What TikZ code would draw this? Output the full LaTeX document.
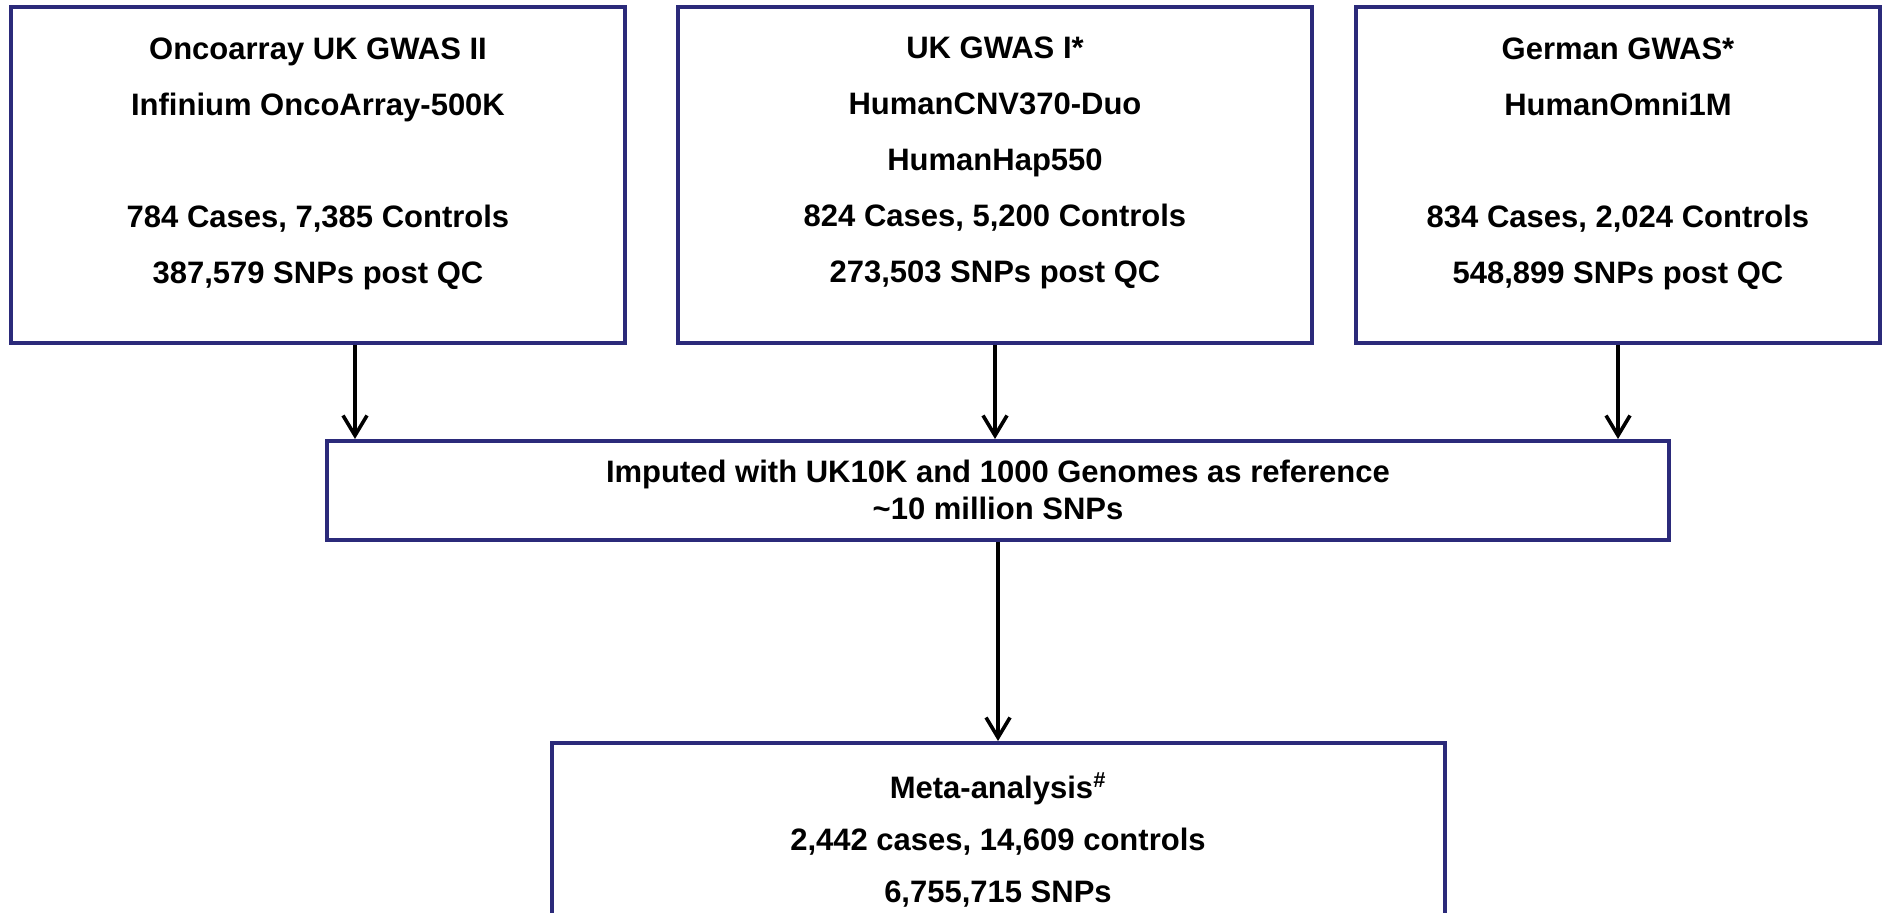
\documentclass[tikz,border=0pt]{standalone}
\usepackage{fontspec}
\setmainfont{Liberation Sans}
\usetikzlibrary{arrows.meta}
\definecolor{boxblue}{RGB}{43,42,122}
\tikzset{
	box/.style={draw=boxblue, line width=2pt, inner sep=0pt},
	txt/.style={align=center, inner sep=0pt, font=\bfseries\fontsize{15.5pt}{28pt}\selectfont},
	arr/.style={line width=1.8pt, -{Straight Barb[length=10pt,width=12pt,line width=1.8pt]}}
}
\begin{document}
\begin{tikzpicture}[x=0.5pt,y=-0.5pt]
				\useasboundingbox (0,0) rectangle (1887,913);
				\clip (0,0) rectangle (1887,913);
				\node[box, minimum width=307pt, minimum height=168pt] (gwasii) at (318,175) {};
				\node[txt] (gwasiiText) at (318,164) {Oncoarray UK GWAS II\\Infinium OncoArray-500K\\[28pt]784 Cases, 7,385 Controls\\387,579 SNPs post QC};
				\node[box, minimum width=317pt, minimum height=168pt] (gwasi) at (995,175) {};
				\node[txt] (gwasiText) at (995,163) {UK GWAS I*\\HumanCNV370-Duo\\HumanHap550\\824 Cases, 5,200 Controls\\273,503 SNPs post QC};
				\node[box, minimum width=262pt, minimum height=168pt] (german) at (1618,175) {};
				\node[txt] (germanText) at (1618,164) {German GWAS*\\HumanOmni1M\\[28pt]834 Cases, 2,024 Controls\\548,899 SNPs post QC};
				\node[box, minimum width=671pt, minimum height=49.5pt] (imputed) at (998,490.5) {};
				\node[txt, font=\bfseries\fontsize{15.5pt}{18.5pt}\selectfont] (imputedText) at (998,490) {Imputed with UK10K and 1000 Genomes as reference\\\textasciitilde10 million SNPs};
				\node[box, minimum width=446.5pt, minimum height=128.5pt] (meta) at (998.5,871.5) {};
				\node[txt, font=\bfseries\fontsize{15.5pt}{26pt}\selectfont] (metaText) at (998,840) {Meta-analysis\textsuperscript{\textit{\#}}\\2,442 cases, 14,609 controls\\6,755,715 SNPs};
				\coordinate (gwasiiOut) at ([xshift=18.5pt]gwasii.south);
				\draw[arr] (gwasiiOut) -- (gwasiiOut |- imputed.north);
				\draw[arr] (gwasi.south) -- (gwasi.south |- imputed.north);
				\draw[arr] (german.south) -- (german.south |- imputed.north);
				\draw[arr] (imputed.south) -- (imputed.south |- meta.north);
	\end{tikzpicture}
\end{document}
